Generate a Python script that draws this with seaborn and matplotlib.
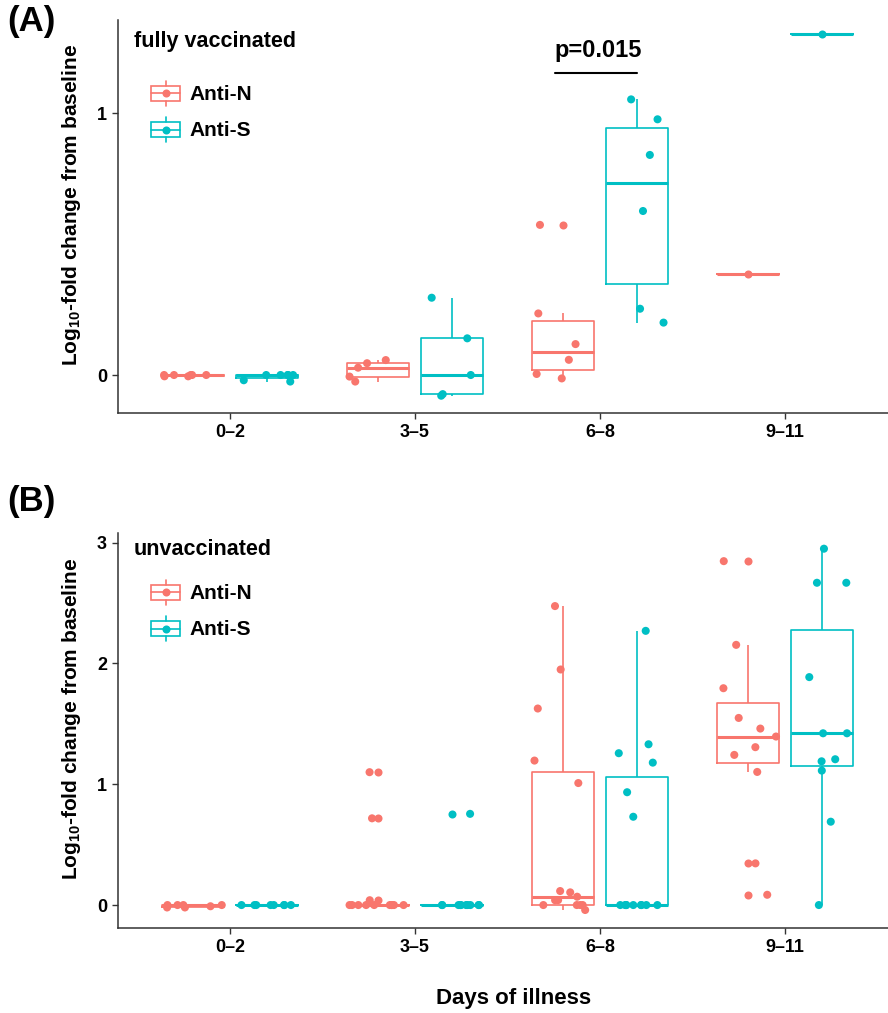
import numpy as np
import pandas as pd
import matplotlib
matplotlib.use("Agg")
import matplotlib.pyplot as plt
import seaborn as sns
from matplotlib.legend_handler import HandlerBase
from matplotlib.patches import Rectangle
from matplotlib.lines import Line2D

days = ["0–2", "3–5", "6–8", "9–11"]
antibodies = ["Anti-N", "Anti-S"]
colors = ["#F8766D", "#00BFC4"]

# (A) fully vaccinated, log10-fold change per day bin
vax_n = {
    "0–2": [0, -0.005, 0, 0, -0.005, 0, 0],
    "3–5": [0.028, 0.057, -0.006, -0.025, 0.045],
    "6–8": [0.573, 0.235, 0.118, 0.058, 0.004, -0.013],
    "9–11": [0.384],
}
vax_s = {
    "0–2": [0, 0, 0, 0, -0.02, -0.025, 0],
    "3–5": [0.295, 0.14, 0.0, -0.073, -0.079],
    "6–8": [1.052, 0.976, 0.840, 0.626, 0.253, 0.200],
    "9–11": [1.302],
}

# (B) unvaccinated
unvax_n = {
    "0–2": [0, 0, 0, -0.01, -0.02, -0.02, 0],
    "3–5": [0.04, 0, 0, 0, 0, 0, 0, 0, 0, 0, 0, 0.718, 1.10],
    "6–8": [2.475, 1.95, 1.627, 1.196, 1.01, 0.116, 0.105, 0.069, 0.041, 0.04,
            0, 0, 0, 0, -0.041],
    "9–11": [2.847, 2.154, 1.795, 1.549, 1.461, 1.395, 1.307, 1.243, 1.102,
             0.345, 0.085],
}
unvax_s = {
    "0–2": [0, 0, 0, 0, 0, 0, 0, 0],
    "3–5": [0.755, 0, 0, 0, 0, 0, 0, 0, 0, 0, 0],
    "6–8": [2.27, 1.331, 1.257, 1.179, 0.934, 0.731, 0, 0, 0, 0, 0, 0, 0, 0, 0],
    "9–11": [2.95, 2.668, 2.668, 1.887, 1.422, 1.422, 1.207, 1.19, 1.113, 0.69, 0],
}

p_label = "p=0.015"
p_bracket_x = (1.757, 2.2)
p_bracket_y = 1.152
p_text_y = 1.215


def to_long(n_dict, s_dict):
    rows = []
    for ab, d in zip(antibodies, [n_dict, s_dict]):
        for day, vals in d.items():
            for v in vals:
                rows.append({"day": day, "antibody": ab, "value": v})
    return pd.DataFrame(rows)


class BoxKey(HandlerBase):
    def create_artists(self, legend, orig_handle, xdescent, ydescent,
                       width, height, fontsize, trans):
        c = orig_handle.get_color()
        x0, y0 = -xdescent, -ydescent
        cx, cy = x0 + width / 2, y0 + height / 2
        bh = height * 0.62
        box = Rectangle((x0, cy - bh / 2), width, bh, fill=False,
                        edgecolor=c, lw=1.2, transform=trans)
        mid = Line2D([x0, x0 + width], [cy, cy], color=c, lw=1.2, transform=trans)
        w1 = Line2D([cx, cx], [cy + bh / 2, y0 + height], color=c, lw=1.2, transform=trans)
        w2 = Line2D([cx, cx], [y0, cy - bh / 2], color=c, lw=1.2, transform=trans)
        dot = Line2D([cx], [cy], marker="o", color=c, ms=5.8, mew=0, transform=trans)
        return [box, mid, w1, w2, dot]


sns.set_theme(style="ticks")
plt.rcParams["font.family"] = ["Liberation Sans", "DejaVu Sans"]
plt.rcParams["mathtext.fontset"] = "custom"
plt.rcParams["mathtext.bf"] = "Liberation Sans:bold"
plt.rcParams["mathtext.rm"] = "Liberation Sans:bold"
plt.rcParams["mathtext.default"] = "bf"
for key in ["text.color", "axes.labelcolor", "xtick.labelcolor", "ytick.labelcolor"]:
    plt.rcParams[key] = "black"

W, H = 888, 1013
fig = plt.figure(figsize=(W / 100, H / 100), dpi=100)
ax_a = fig.add_axes([118 / W, 1 - 413 / H, 770 / W, 393 / H])
ax_b = fig.add_axes([118 / W, 1 - 928 / H, 770 / W, 395 / H])

np.random.seed(11)
panels = [
    (ax_a, to_long(vax_n, vax_s), (-0.145, 1.355), [0, 1], "fully vaccinated", "(A)", 42, 22, 81),
    (ax_b, to_long(unvax_n, unvax_s), (-0.19, 3.08), [0, 1, 2, 3], "unvaccinated", "(B)", 549, 502, 580),
]

for ax, df, ylim, yticks, title, tag, title_y, tag_y, leg_y in panels:
    sns.boxplot(data=df, x="day", y="value", hue="antibody", order=days,
                hue_order=antibodies, palette=colors, fill=False, width=0.8,
                gap=0.16, linewidth=1.2, showcaps=False,
                medianprops=dict(linewidth=2.2),
                flierprops=dict(marker="o", markersize=5.8, markeredgewidth=0),
                legend=False, ax=ax)
    # colour outlier dots by the hue of the box they belong to
    for ln in ax.lines:
        if ln.get_marker() not in (None, "None", "", " ") and len(ln.get_xdata()):
            x = np.asarray(ln.get_xdata(), dtype=float)[0]
            c = colors[0] if x < round(x) else colors[1]
            ln.set_markerfacecolor(c)
            ln.set_markeredgecolor(c)
    sns.stripplot(data=df, x="day", y="value", hue="antibody", order=days,
                  hue_order=antibodies, palette=colors, dodge=True, jitter=0.32,
                  size=5.8, linewidth=0, legend=False, ax=ax)

    ax.set_xlim(-0.605, 3.557)
    ax.set_ylim(*ylim)
    ax.set_yticks(yticks)
    ax.set_yticklabels([str(t) for t in yticks])
    ax.set_xlabel("")
    ax.set_ylabel("Log$_{10}$-fold change from baseline", fontsize=15,
                  fontweight="bold", color="black")
    ax.yaxis.set_label_coords(-0.045, 0.53)
    sns.despine(ax=ax)
    for s in ["left", "bottom"]:
        ax.spines[s].set_color("#333333")
        ax.spines[s].set_linewidth(1.1)
    ax.tick_params(axis="both", length=4, width=1.0, color="#333333",
                   labelsize=13, pad=4, labelcolor="black")
    for lab in ax.get_xticklabels() + ax.get_yticklabels():
        lab.set_fontweight("bold")

    fig.text(134 / W, 1 - title_y / H, title, fontsize=15.5, fontweight="bold",
             ha="left", va="center", color="black")
    fig.text(7 / W, 1 - tag_y / H, tag, fontsize=25, fontweight="bold",
             ha="left", va="center", color="black")

    handles = [Line2D([], [], color=c) for c in colors]
    ax.legend(handles, antibodies, handler_map={Line2D: BoxKey()},
              loc="upper left", bbox_to_anchor=(151 / W, 1 - leg_y / H),
              bbox_transform=fig.transFigure, frameon=False, borderpad=0,
              borderaxespad=0, handlelength=1.4, handleheight=1.45,
              handletextpad=0.45, labelspacing=0.55,
              prop={"size": 15, "weight": "bold"}, labelcolor="black")

ax_a.plot(list(p_bracket_x), [p_bracket_y, p_bracket_y], color="black", lw=1.5)
ax_a.text(sum(p_bracket_x) / 2 + 0.01, p_text_y, p_label, ha="center",
          va="baseline", fontsize=17, fontweight="bold", color="black")

fig.text(514 / W, 1 - 998 / H, "Days of illness", ha="center", va="center",
         fontsize=16, fontweight="bold", color="black")

fig.savefig("out.png", dpi=100)
